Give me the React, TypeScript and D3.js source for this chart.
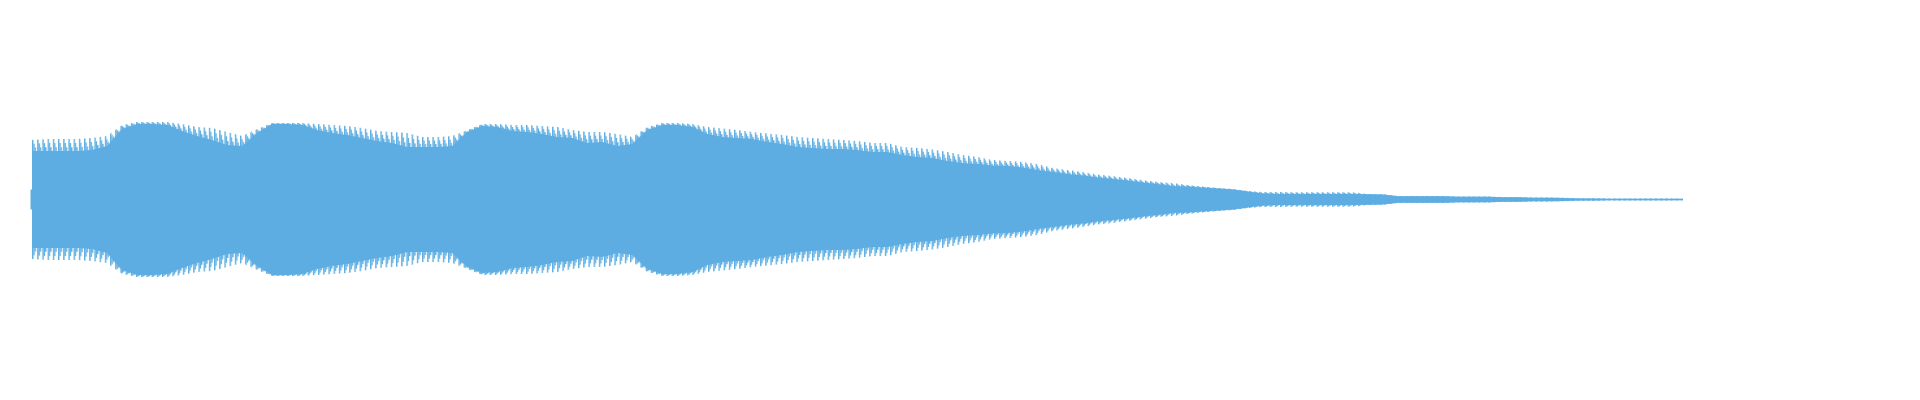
import React from "react";
import * as d3 from "d3";

// Waveform envelope, sampled at evenly spaced points across the clip (normalized amplitude 0..1)
const peakAmp: number[] = [
  0.298, 0.303, 0.303, 0.303, 0.308, 0.318, 0.373, 0.388, 0.388, 0.388,
  0.378, 0.363, 0.358, 0.338, 0.318, 0.353, 0.383, 0.383, 0.383, 0.378,
  0.373, 0.368, 0.358, 0.343, 0.338, 0.333, 0.313, 0.313, 0.318, 0.348,
  0.378, 0.378, 0.373, 0.373, 0.368, 0.363, 0.348, 0.338, 0.338, 0.328,
  0.313, 0.363, 0.383, 0.383, 0.378, 0.363, 0.355, 0.348, 0.338, 0.330,
  0.323, 0.313, 0.308, 0.303, 0.298, 0.293, 0.283, 0.283, 0.263, 0.258,
  0.250, 0.238, 0.223, 0.213, 0.198, 0.193, 0.188, 0.178, 0.158, 0.148,
  0.138, 0.125, 0.118, 0.108, 0.098, 0.088, 0.083, 0.073, 0.065, 0.058,
  0.053, 0.043, 0.038, 0.038, 0.036, 0.036, 0.036, 0.036, 0.036, 0.027,
  0.026, 0.018, 0.018, 0.018, 0.018, 0.015, 0.015, 0.015, 0.012, 0.012,
  0.010, 0.010, 0.009, 0.006, 0.006, 0.005, 0.005, 0.005, 0.005, 0.005,
  0.004,
];

const bodyAmp: number[] = [
  0.243, 0.243, 0.243, 0.243, 0.248, 0.268, 0.353, 0.378, 0.378, 0.373,
  0.343, 0.318, 0.298, 0.273, 0.268, 0.333, 0.378, 0.378, 0.373, 0.348,
  0.333, 0.323, 0.308, 0.293, 0.283, 0.263, 0.263, 0.263, 0.268, 0.338,
  0.368, 0.363, 0.343, 0.338, 0.328, 0.313, 0.308, 0.283, 0.288, 0.268,
  0.278, 0.348, 0.373, 0.373, 0.363, 0.328, 0.313, 0.308, 0.303, 0.288,
  0.278, 0.263, 0.258, 0.253, 0.253, 0.248, 0.238, 0.238, 0.223, 0.213,
  0.208, 0.193, 0.183, 0.178, 0.170, 0.168, 0.160, 0.148, 0.138, 0.128,
  0.120, 0.110, 0.103, 0.095, 0.085, 0.078, 0.068, 0.065, 0.060, 0.055,
  0.050, 0.040, 0.030, 0.028, 0.028, 0.028, 0.028, 0.028, 0.028, 0.026,
  0.025, 0.016, 0.016, 0.016, 0.016, 0.014, 0.014, 0.014, 0.011, 0.011,
  0.009, 0.009, 0.008, 0.005, 0.005, 0.004, 0.004, 0.004, 0.004, 0.004,
  0.004,
];

const WIDTH = 1920;
const HEIGHT = 400;
const COLOR = "#5dade2";
const PERIOD = 5.2;
// sawtooth steps: share of the fringe between body and peak, and stripe offset within a period
const STEPS = [
  { frac: 1.0, off: 0 },
  { frac: 0.65, off: 1.3 },
  { frac: 0.3, off: 2.6 },
];

export default function App() {
  const n = peakAmp.length;
  const x = d3.scaleLinear().domain([0, n - 1]).range([32, 1683]);
  const y = d3.scaleLinear().domain([-1, 1]).range([399.5, -0.5]);
  const idx = d3.range(n);

  const makeArea = (f: number) =>
    d3
      .area<number>()
      .x((i) => x(i))
      .y0((i) => y(-(bodyAmp[i] + f * (peakAmp[i] - bodyAmp[i]))))
      .y1((i) => y(bodyAmp[i] + f * (peakAmp[i] - bodyAmp[i])))
      .curve(d3.curveLinear);

  return (
    <svg
      width={WIDTH}
      height={HEIGHT}
      style={{ position: "absolute", left: 0, top: 0, display: "block", background: "#fff" }}
    >
      <defs>
        {STEPS.map((s, k) => (
          <pattern
            key={k}
            id={`teeth${k}`}
            patternUnits="userSpaceOnUse"
            width={PERIOD}
            height={HEIGHT}
            x={32}
          >
            <rect x={s.off} y={0} width={1.4} height={HEIGHT} fill={COLOR} />
          </pattern>
        ))}
      </defs>
      {STEPS.map((s, k) => (
        <path key={k} d={makeArea(s.frac)(idx) ?? ""} fill={`url(#teeth${k})`} />
      ))}
      <path d={makeArea(0)(idx) ?? ""} fill={COLOR} />
      <rect x={x(0) - 1.5} y={y(0.05)} width={1.5} height={y(-0.05) - y(0.05)} fill={COLOR} />
    </svg>
  );
}
